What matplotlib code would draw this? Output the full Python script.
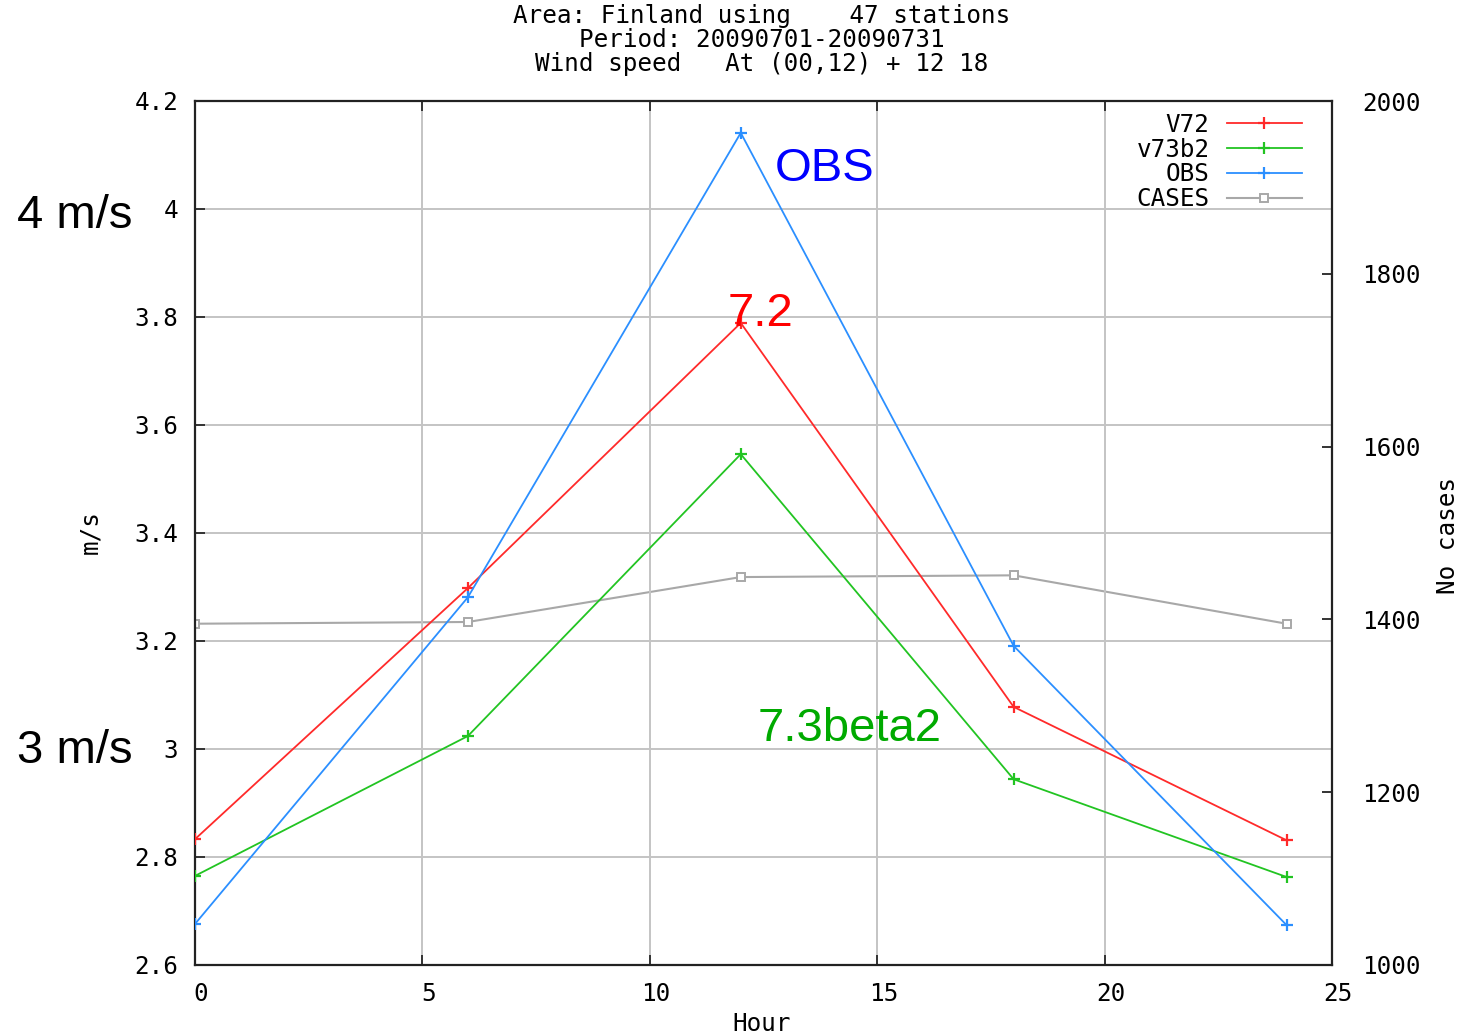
import matplotlib
matplotlib.use("Agg")
import matplotlib.pyplot as plt
import matplotlib.transforms as mtransforms

# Forecast verification: mean wind speed by forecast hour
hours = [0, 6, 12, 18, 24]
v72 = [2.833, 3.298, 3.789, 3.078, 2.831]
v73b2 = [2.765, 3.024, 3.546, 2.944, 2.763]
obs = [2.676, 3.281, 4.141, 3.191, 2.674]
cases = [1395, 1397, 1449, 1451, 1395]

series_labels = ["V72", "v73b2", "OBS", "CASES"]
x_ticks = [0, 5, 10, 15, 20, 25]
y_ticks = [2.6, 2.8, 3.0, 3.2, 3.4, 3.6, 3.8, 4.0, 4.2]
y_tick_labels = ["2.6", "2.8", "3", "3.2", "3.4", "3.6", "3.8", "4", "4.2"]
y2_ticks = [1000, 1200, 1400, 1600, 1800, 2000]

title_lines = [
    "Area: Finland using    47 stations",
    "Period: 20090701-20090731",
    "Wind speed   At (00,12) + 12 18",
]

W, H = 1465, 1035
MONO = "DejaVu Sans Mono"
SANS = "Liberation Sans"
FS = 17.5

fig = plt.figure(figsize=(W / 100, H / 100), dpi=100)
fig.patch.set_facecolor("white")


def fx(px):
    return px / W


def fy(py):
    return 1 - py / H


AX_L, AX_R, AX_T, AX_B = 195, 1332, 101, 965
ax = fig.add_axes([fx(AX_L), fy(AX_B), fx(AX_R) - fx(AX_L), fy(AX_T) - fy(AX_B)])
ax.set_xlim(0, 25)
ax.set_ylim(2.6, 4.2)
ax.set_xticks(x_ticks)
ax.set_xticklabels([str(t) for t in x_ticks], fontfamily=MONO, fontsize=FS)
ax.set_yticks(y_ticks)
ax.set_yticklabels(y_tick_labels, fontfamily=MONO, fontsize=FS)
ax.grid(True, color="#c4c4c4", linewidth=1.4, zorder=0)
ax.tick_params(axis="x", direction="in", length=7, width=1.4, pad=12,
               top=True, color="#333333")
ax.tick_params(axis="y", direction="in", length=7, width=1.4, pad=12,
               color="#333333")
for sp in ax.spines.values():
    sp.set_linewidth(1.6)
    sp.set_color("#222222")

# gnuplot-style x tick labels sit slightly right of their ticks
shift = mtransforms.ScaledTranslation(6 / 100, 0, fig.dpi_scale_trans)
for lab in ax.get_xticklabels():
    lab.set_transform(lab.get_transform() + shift)

ax2 = ax.twinx()
ax2.set_ylim(1000, 2000)
ax2.set_yticks(y2_ticks)
ax2.set_yticklabels([str(t) for t in y2_ticks], fontfamily=MONO, fontsize=FS)
ax2.tick_params(axis="y", direction="in", length=7, width=1.4, pad=22,
                color="#333333")
for sp in ax2.spines.values():
    sp.set_visible(False)

red = "#ff2a2a"
green = "#22c422"
blue = "#2b8fff"
grey = "#a8a8a8"

l_cases, = ax2.plot(hours, cases, color=grey, lw=1.5, marker="s", ms=6,
                    mfc="white", mec=grey, mew=1.4, zorder=3)
l_v72, = ax.plot(hours, v72, color=red, lw=1.3, marker="+", ms=9, mew=1.6,
                 zorder=4)
l_v73, = ax.plot(hours, v73b2, color=green, lw=1.3, marker="+", ms=9, mew=1.6,
                 zorder=4)
l_obs, = ax.plot(hours, obs, color=blue, lw=1.3, marker="+", ms=9, mew=1.6,
                 zorder=4)
ax.set_zorder(ax2.get_zorder() + 1)
ax.patch.set_visible(False)

aw = AX_R - AX_L
ah = AX_B - AX_T
leg = ax.legend([l_v72, l_v73, l_obs, l_cases], series_labels,
                loc="upper right",
                bbox_to_anchor=(1 - 30 / aw, 1 - 12 / ah),
                bbox_transform=ax.transAxes, frameon=False, markerfirst=False,
                numpoints=1, handlelength=3.1, handletextpad=0.7,
                labelspacing=0.03, borderaxespad=0.0, borderpad=0.0,
                prop={"family": MONO, "size": FS})
for t in leg.get_texts():
    t.set_ha("right")

# axis titles
fig.text(fx(762), fy(1024), "Hour", ha="center", va="center",
         fontfamily=MONO, fontsize=FS)
fig.text(fx(90), fy(532), "m/s", ha="center", va="center", rotation=90,
         fontfamily=MONO, fontsize=FS)
fig.text(fx(1448), fy(535), "No cases", ha="center", va="center", rotation=90,
         fontfamily=MONO, fontsize=FS)

# header
for i, line in enumerate(title_lines):
    fig.text(fx(762), fy(16 + 24 * i), line, ha="center", va="center",
             fontfamily=MONO, fontsize=FS)

# large annotations
fig.text(fx(17), fy(228), "4 m/s", ha="left", va="baseline",
         fontfamily=SANS, fontsize=34, color="black")
fig.text(fx(17), fy(763), "3 m/s", ha="left", va="baseline",
         fontfamily=SANS, fontsize=34, color="black")
ax.text(12.75, 4.052, "OBS", ha="left", va="baseline", fontfamily=SANS,
        fontsize=34, color="#0000ff", zorder=6)
ax.text(11.72, 3.783, "7.2", ha="left", va="baseline", fontfamily=SANS,
        fontsize=34, color="#ff0000", zorder=6)
ax.text(12.36, 3.015, "7.3beta2", ha="left", va="baseline", fontfamily=SANS,
        fontsize=34, color="#00aa00", zorder=6)

fig.savefig("out.png", dpi=100, facecolor="white")
